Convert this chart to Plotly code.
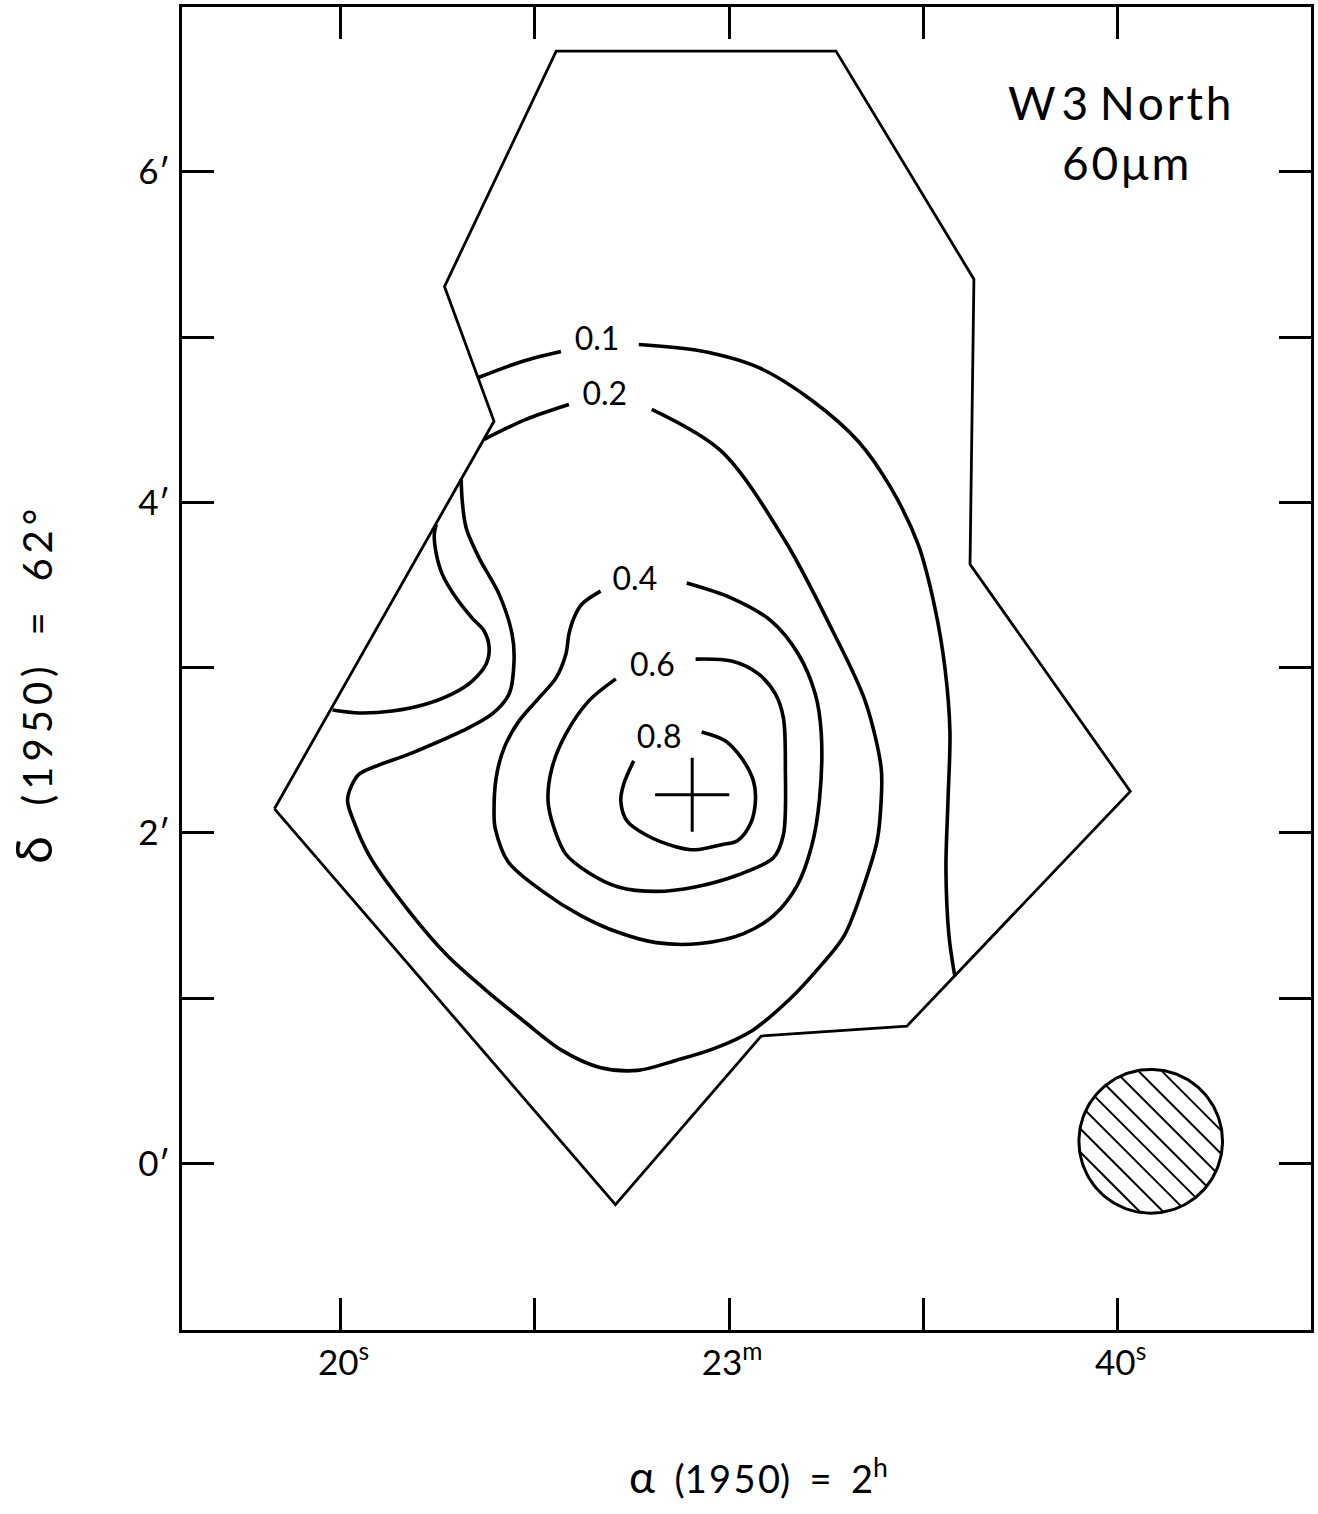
import numpy as np
import plotly.graph_objects as go

# ---------------- data (RA: seconds after 2h22m, Dec: arcmin after 62 deg) ----------------
RA_TICKS = [20, 60, 100]
RA_TICKTEXT = ["20<sup>s</sup>", "23<sup>m</sup>", "40<sup>s</sup>"]
RA_MINOR = [40, 80]
DEC_TICKS = [0, 2, 4, 6]
DEC_TICKTEXT = ["0′", "2′", "4′", "6′"]
DEC_MINOR = [1, 3, 5]

BOUNDARY_RA = [13.2, 35.8, 30.7, 42.2, 71.0, 85.2, 84.8, 101.3, 78.3, 63.3, 48.3, 13.2]
BOUNDARY_DEC = [2.145, 4.49, 5.305, 6.73, 6.73, 5.35, 3.625, 2.25, 0.83, 0.77, -0.25, 2.145]

C01_A_RA = [34.2, 38.69, 42.69]
C01_A_DEC = [4.755, 4.852, 4.912]
C01_B_RA = [50.7, 56.86, 63.0, 68.67, 73.29, 76.67, 79.45, 81.19, 82.22, 82.73, 82.53, 82.32, 82.63, 83.24]
C01_B_DEC = [4.955, 4.918, 4.816, 4.61, 4.369, 4.085, 3.746, 3.36, 2.997, 2.616, 2.193, 1.782, 1.378, 1.130]

C02_A_RA = [34.8, 39.1, 43.51]
C02_A_DEC = [4.381, 4.502, 4.592]
C02_B_RA = [52.03, 59.22, 65.79, 70.51, 74.0, 75.65, 75.65, 75.24, 73.9, 71.85, 69.08, 66.2, 62.4,
            58.5, 54.5, 50.6, 46.69, 42.79, 38.79, 34.89, 30.99, 27.08, 23.08, 21.33, 20.72, 21.13,
            21.95, 27.39, 32.53, 35.61, 37.35, 37.86, 37.66, 36.32, 34.27, 32.94, 32.53, 32.42]
C02_B_DEC = [4.562, 4.308, 3.764, 3.239, 2.798, 2.393, 2.193, 1.952, 1.686, 1.378, 1.172, 0.991, 0.804,
             0.695, 0.622, 0.562, 0.58, 0.683, 0.864, 1.051, 1.257, 1.523, 1.849, 2.073, 2.193, 2.284,
             2.356, 2.483, 2.616, 2.719, 2.840, 3.039, 3.202, 3.444, 3.662, 3.843, 4.006, 4.139]

C_EDGE_RA = [29.86, 29.65, 29.86, 30.47, 31.91, 33.55, 34.78, 35.3, 34.99, 33.55, 31.5, 28.83, 25.34, 21.95, 19.18]
C_EDGE_DEC = [3.867, 3.807, 3.686, 3.565, 3.42, 3.299, 3.221, 3.118, 3.021, 2.918, 2.840, 2.779, 2.737, 2.725, 2.743]

C04_RA = [55.63, 60.25, 64.35, 67.12, 68.87, 69.49, 69.3, 68.5, 67.0, 64.6, 61.5, 57.0, 52.5,
          48.64, 44.74, 40.84, 37.25, 35.91, 35.81, 36.02, 36.84, 38.38, 40.43, 42.18, 43.2, 43.51,
          44.02, 44.85, 46.77]
C04_DEC = [3.511, 3.42, 3.281, 3.082, 2.840, 2.598, 2.2, 1.92, 1.68, 1.5, 1.39, 1.33, 1.335,
           1.396, 1.499, 1.644, 1.825, 2.030, 2.091, 2.332, 2.514, 2.677, 2.816, 2.937, 3.082, 3.202,
           3.3, 3.384, 3.462]

C06_RA = [56.55, 60.25, 63.02, 64.76, 65.59, 65.79, 65.59, 64.56, 60.97, 56.5, 52.5, 48.6, 45.5,
          43.2, 41.97, 41.36, 41.77, 43.2, 45.56, 48.34]
C06_DEC = [3.051, 3.039, 2.961, 2.840, 2.695, 2.393, 1.988, 1.849, 1.746, 1.672, 1.645, 1.672, 1.76,
           1.87, 2.030, 2.193, 2.393, 2.598, 2.798, 2.931]

C08_RA = [57.17, 59.63, 61.27, 62.5, 62.71, 62.2, 60.86, 59.22, 56.55, 54.5, 51.42, 49.47, 48.85, 49.16, 50.18]
C08_DEC = [2.610, 2.556, 2.453, 2.314, 2.193, 2.054, 1.952, 1.928, 1.897, 1.916, 1.988, 2.073, 2.193, 2.296, 2.435]

LEVEL_TEXT = ["0.1", "0.2", "0.4", "0.6", "0.8"]
LEVEL_LABEL_RA = [46.4, 47.2, 50.3, 52.1, 52.8]
LEVEL_LABEL_DEC = [4.97, 4.64, 3.52, 3.0, 2.56]

PEAK_RA = [56.2]
PEAK_DEC = [2.23]

BEAM_RA = 103.4
BEAM_DEC = 0.133
BEAM_R_RA = 7.39       # radius along RA axis (s)
BEAM_R_DEC = 0.435     # radius along Dec axis (arcmin)
HATCH_OFFSETS = [-0.80, -0.57, -0.34, -0.11, 0.11, 0.34, 0.57, 0.80]

X_RANGE = [3.68, 119.9]
Y_RANGE = [-1.009, 6.997]

FONT = "Lato"
BLACK = "black"
TS = "\u2009"   # thin space
HS = "\u200a"   # hair space
NB = "\u00a0"   # no-break space

fig = go.Figure()

def add_line(xs, ys, width=3.0, spline=True):
    fig.add_trace(go.Scatter(
        x=xs, y=ys, mode="lines",
        line=dict(color=BLACK, width=width, shape="spline" if spline else "linear", smoothing=0.9),
        hoverinfo="skip", showlegend=False))

# map boundary
add_line(BOUNDARY_RA, BOUNDARY_DEC, width=2.8, spline=False)

# contours
for xs, ys in [(C01_A_RA, C01_A_DEC), (C01_B_RA, C01_B_DEC), (C02_A_RA, C02_A_DEC),
               (C02_B_RA, C02_B_DEC), (C_EDGE_RA, C_EDGE_DEC), (C04_RA, C04_DEC),
               (C06_RA, C06_DEC), (C08_RA, C08_DEC)]:
    add_line(xs, ys, width=3.6, spline=True)

# contour labels
fig.add_trace(go.Scatter(
    x=LEVEL_LABEL_RA, y=LEVEL_LABEL_DEC, mode="text", text=LEVEL_TEXT,
    textfont=dict(family=FONT, size=32, color=BLACK), textposition="middle center",
    hoverinfo="skip", showlegend=False))

# peak cross
fig.add_trace(go.Scatter(
    x=PEAK_RA, y=PEAK_DEC, mode="markers",
    marker=dict(symbol="cross-thin", size=53, color=BLACK, line=dict(color=BLACK, width=3)),
    hoverinfo="skip", showlegend=False))

# beam circle with hatching
t = np.linspace(0, 2 * np.pi, 181)
fig.add_trace(go.Scatter(
    x=BEAM_RA + BEAM_R_RA * np.cos(t), y=BEAM_DEC + BEAM_R_DEC * np.sin(t), mode="lines",
    line=dict(color=BLACK, width=3), hoverinfo="skip", showlegend=False))
hx, hy = [], []
for d in HATCH_OFFSETS:
    h = np.sqrt(1 - d * d)
    u0, v0 = d / np.sqrt(2), d / np.sqrt(2)
    for s in (-1, 1):
        u = u0 + s * h / np.sqrt(2)
        v = v0 - s * h / np.sqrt(2)
        hx.append(BEAM_RA + BEAM_R_RA * u)
        hy.append(BEAM_DEC + BEAM_R_DEC * v)
    hx.append(None)
    hy.append(None)
fig.add_trace(go.Scatter(x=hx, y=hy, mode="lines", line=dict(color=BLACK, width=2),
                         hoverinfo="skip", showlegend=False))

label_text = ("W" + TS + "3 N" + HS + "o" + HS + "r" + HS + "t" + HS + "h" + "<br>"
              + NB + "6" + HS + "0" + HS + "μ" + HS + "m")
fig.add_annotation(x=100.2, y=6.24, text=label_text, showarrow=False, align="center",
                   font=dict(family=FONT, size=46, color=BLACK),
                   xanchor="center", yanchor="middle")

# axis titles
x_title = ("<span style='font-size:44px'>α</span>" + NB * 2 + "(1" + HS + "9" + HS + "5" + HS
           + "0)" + NB * 2 + "=" + NB * 2 + "2<sup>h</sup>")
y_title = ("<span style='font-size:50px'>δ</span>" + NB * 3 + "(" + TS + "1" + TS + "9" + TS + "5" + TS
           + "0" + TS + ")" + NB * 3 + "=" + NB * 3 + "6" + TS + "2" + TS + "°")
fig.add_annotation(xref="paper", yref="paper", x=0.5106, y=-0.110, text=x_title, showarrow=False,
                   font=dict(family=FONT, size=38, color=BLACK), xanchor="center", yanchor="middle")
fig.add_annotation(xref="paper", yref="paper", x=-0.132, y=0.487, text=y_title, showarrow=False,
                   textangle=-90, font=dict(family=FONT, size=40, color=BLACK),
                   xanchor="center", yanchor="middle")

axis_common = dict(showline=True, linewidth=3, linecolor=BLACK, mirror="ticks",
                   ticks="inside", ticklen=32, tickwidth=2.5, tickcolor=BLACK,
                   showgrid=False, zeroline=False, fixedrange=True)

fig.update_layout(
    width=1318, height=1514,
    margin=dict(l=182, r=4, t=5, b=184),
    paper_bgcolor="white", plot_bgcolor="white",
    font=dict(family=FONT, color=BLACK),
    xaxis=dict(range=X_RANGE, tickvals=RA_TICKS, ticktext=RA_TICKTEXT,
               minor=dict(tickvals=RA_MINOR, ticks="inside", ticklen=32, tickwidth=2.5, tickcolor=BLACK),
               tickfont=dict(size=35, family=FONT), ticklabelshift=3,
               **axis_common),
    yaxis=dict(range=Y_RANGE, tickvals=DEC_TICKS, ticktext=DEC_TICKTEXT,
               minor=dict(tickvals=DEC_MINOR, ticks="inside", ticklen=32, tickwidth=2.5, tickcolor=BLACK),
               tickfont=dict(size=35, family=FONT), ticklabelstandoff=2,
               **axis_common),
)

fig.write_html("out.html", config={"displayModeBar": False},
               post_script="document.body.style.margin='0';document.body.style.overflow='hidden';")
